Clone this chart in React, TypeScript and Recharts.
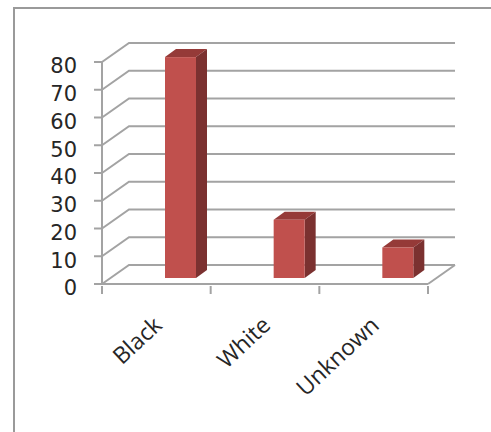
import { Bar, BarChart, CartesianGrid, XAxis, YAxis } from "recharts";

const categories = ["Black", "White", "Unknown"];
const counts = [79.6, 21, 11];
const yTicks = [0, 10, 20, 30, 40, 50, 60, 70, 80];

const rows = categories.map((name, i) => ({ name, count: counts[i] }));

const FONT = "'Open Sans', sans-serif";
const AXIS_COLOR = "#a3a3a3";

// fake 3D: how far the back wall sits from the front of the floor
const WALL_DX = 27;
const WALL_DY = -19;
// bars stand in the middle of the floor, with a shallower depth of their own
const BAR_DX = 24;
const BAR_DY = -6;
const SIDE_DX = 11;
const SIDE_DY = -8;

function GridLine(props: any) {
  const { x1, x2, y1, index } = props;
  const backY = y1 + WALL_DY;
  return (
    <g key={`grid-${index}`} fill="none" stroke={AXIS_COLOR} strokeWidth={2}>
      <path d={`M${x1},${y1}L${x1 + WALL_DX},${backY}L${x2 + WALL_DX},${backY}`} />
      {index === 0 && <path d={`M${x2},${y1}L${x2 + WALL_DX},${backY}`} />}
    </g>
  );
}

function Box3D(props: any) {
  const { x, y, width, height } = props;
  const left = x + BAR_DX;
  const right = left + width;
  const top = y + BAR_DY;
  const bottom = top + height;
  return (
    <g>
      <path
        d={`M${left},${top}L${left + SIDE_DX},${top + SIDE_DY}L${right + SIDE_DX},${top + SIDE_DY}L${right},${top}Z`}
        fill="#953a38"
      />
      <path
        d={`M${right},${top}L${right + SIDE_DX},${top + SIDE_DY}L${right + SIDE_DX},${bottom + SIDE_DY}L${right},${bottom}Z`}
        fill="#7b3130"
      />
      <rect x={left} y={top} width={width} height={height} fill="#c0504d" />
    </g>
  );
}

// ticks sit between the categories, not under them
function CategoryTick(props: any) {
  const { x, y, payload, index, width, visibleTicksCount } = props;
  const band = width / visibleTicksCount;
  const axisY = y - 8;
  const tickAt = (tx: number) => (
    <path d={`M${tx},${axisY}V${axisY + 8}`} stroke={AXIS_COLOR} strokeWidth={2} />
  );
  return (
    <g>
      {tickAt(x - band / 2)}
      {index === visibleTicksCount - 1 && tickAt(x + band / 2)}
      <text
        x={x + 7}
        y={y + 33}
        textAnchor="end"
        fontFamily={FONT}
        fontSize={23}
        fill="#262626"
        transform={`rotate(-43 ${x + 7} ${y + 33})`}
      >
        {payload.value}
      </text>
    </g>
  );
}

export default function App() {
  return (
    <div
      style={{
        position: "absolute",
        left: 13,
        top: 7,
        width: 478,
        height: 425,
        boxSizing: "border-box",
        borderLeft: "2px solid #9a9a9a",
        borderTop: "2px solid #9a9a9a",
      }}
    >
      <BarChart
        width={474}
        height={423}
        data={rows}
        margin={{ top: 53, right: 61, bottom: 0, left: 0 }}
        barSize={31}
        style={{ position: "absolute", left: 0, top: 0 }}
      >
        <CartesianGrid vertical={false} horizontal={GridLine as any} />
        <XAxis
          dataKey="name"
          interval={0}
          stroke={AXIS_COLOR}
          strokeWidth={2}
          tickSize={8}
          tick={CategoryTick as any}
          tickLine={false}
          height={148}
        />
        <YAxis
          domain={[0, 80]}
          ticks={yTicks}
          interval={0}
          width={87}
          stroke={AXIS_COLOR}
          strokeWidth={2}
          tickSize={8}
          tickMargin={17}
          tick={{ fontFamily: "'DejaVu Sans', sans-serif", fontSize: 21, fill: "#262626", dy: 4 }}
          tickLine={{ stroke: AXIS_COLOR, strokeWidth: 2 }}
        />
        <Bar dataKey="count" shape={Box3D as any} isAnimationActive={false} />
      </BarChart>
    </div>
  );
}
